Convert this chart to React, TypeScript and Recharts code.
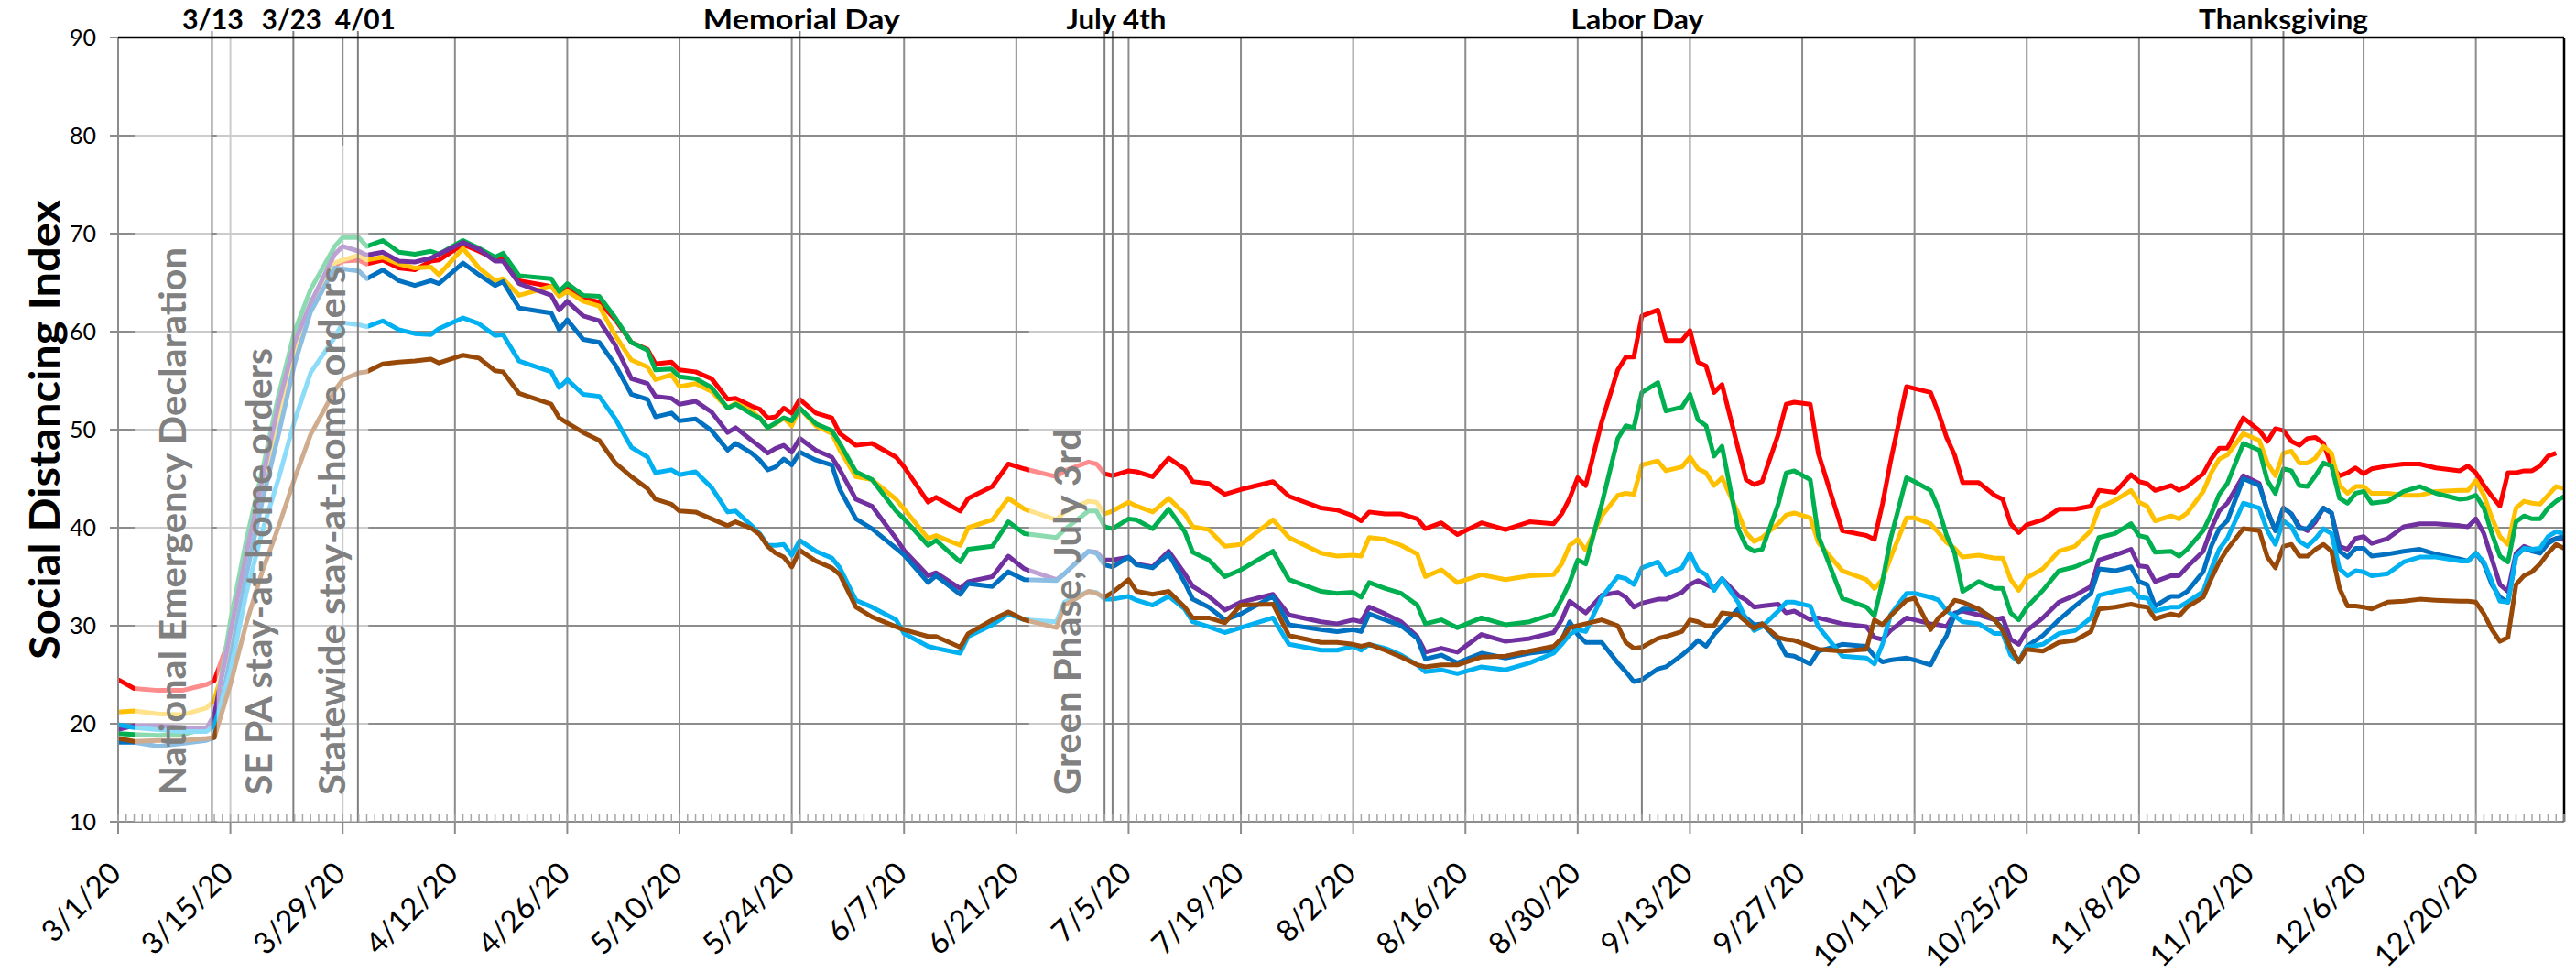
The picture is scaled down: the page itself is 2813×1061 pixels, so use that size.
import React from 'react';
import { LineChart, Line, XAxis, YAxis, CartesianGrid, ReferenceLine, ReferenceArea } from 'recharts';

// day index counted from 3/1/20
const days = [
  0, 2, 5, 8, 11, 12, 14, 16, 18, 20,
  22, 24, 27, 28, 30, 31, 33, 35, 37, 39,
  40, 43, 45, 47, 48, 50, 54, 55, 56, 58,
  60, 62, 64, 66, 67, 69, 70, 72, 74, 76,
  77, 79, 80, 81, 82, 83, 84, 85, 87, 89,
  90, 92, 94, 97, 98, 101, 102, 105, 106, 109,
  111, 113, 117, 118, 121, 122, 123, 124, 126, 127,
  129, 131, 133, 134, 136, 138, 140, 144, 146, 150,
  152, 154, 155, 156, 158, 160, 162, 163, 165, 167,
  170, 173, 176, 179, 180, 181, 182, 183, 185, 187,
  188, 189, 190, 192, 193, 195, 196, 197, 198, 199,
  200, 202, 203, 204, 205, 207, 208, 209, 211, 212,
  215, 218, 219, 220, 221, 223, 224, 226, 227, 228,
  229, 230, 232, 234, 235, 236, 237, 238, 240, 242,
  244, 246, 247, 249, 251, 252, 253, 254, 256, 257,
  258, 260, 261, 262, 263, 265, 267, 268, 269, 270,
  271, 272, 273, 274, 275, 276, 277, 278, 279, 280,
  281, 283, 285, 287, 289, 292, 293, 294, 295, 296,
  297, 298, 299, 300, 301, 302, 303, 304, 305,
];

const red = [
  24.5, 23.6, 23.4, 23.4, 24.0, 24.4, 29.0, 37.0, 44.5, 51.3,
  58.2, 62.3, 66.7, 67.2, 67.3, 66.9, 67.3, 66.5, 66.3, 67.2,
  67.3, 68.9, 68.2, 67.4, 67.4, 65.2, 64.6, 63.9, 64.4, 63.4,
  63.0, 61.2, 58.9, 58.2, 56.7, 56.9, 56.1, 55.9, 55.2, 53.1,
  53.2, 52.4, 52.1, 51.2, 51.3, 52.2, 51.7, 53.1, 51.7, 51.2,
  49.6, 48.4, 48.6, 47.2, 46.2, 42.6, 43.1, 41.7, 43.0, 44.2,
  46.5, 46.0, 45.2, 45.8, 46.7, 46.5, 45.5, 45.3, 45.8, 45.7,
  45.2, 47.1, 46.0, 44.7, 44.5, 43.4, 43.9, 44.7, 43.2, 42.0,
  41.8, 41.2, 40.7, 41.6, 41.4, 41.4, 40.9, 39.9, 40.5, 39.3,
  40.5, 39.8, 40.6, 40.4, 41.4, 43.0, 45.1, 44.3, 50.8, 56.1,
  57.4, 57.4, 61.6, 62.2, 59.1, 59.1, 60.1, 56.9, 56.5, 53.8,
  54.6, 48.1, 44.9, 44.4, 44.7, 49.5, 52.6, 52.8, 52.6, 47.6,
  39.7, 39.2, 38.8, 42.4, 46.7, 54.4, 54.2, 53.8, 51.7, 49.2,
  47.4, 44.6, 44.6, 43.3, 42.9, 40.4, 39.5, 40.3, 40.8, 41.9,
  41.9, 42.2, 43.8, 43.6, 45.4, 44.7, 44.5, 43.8, 44.3, 43.8,
  44.2, 45.5, 47.0, 48.1, 48.1, 51.2, 49.9, 48.8, 50.1, 49.9,
  48.8, 48.4, 49.1, 49.2, 48.6, 46.3, 45.3, 45.6, 46.1, 45.5,
  46.0, 46.3, 46.5, 46.5, 46.1, 45.8, 46.3, 45.6, 44.3, 43.2,
  42.2, 45.6, 45.6, 45.8, 45.8, 46.3, 47.3, 47.6, null,
];

const gold = [
  21.2, 21.3, 21.0, 20.9, 21.6, 22.4, 28.2, 36.5, 44.0, 50.9,
  57.8, 62.3, 67.0, 67.3, 67.8, 67.3, 67.6, 66.9, 66.5, 66.6,
  65.8, 68.5, 66.5, 65.2, 65.4, 63.7, 64.6, 63.6, 64.1, 63.1,
  62.6, 59.6, 57.1, 56.4, 55.1, 55.6, 54.4, 54.7, 53.9, 52.2,
  52.7, 51.9, 51.2, 50.2, 50.6, 51.2, 50.4, 52.2, 50.4, 49.6,
  47.9, 45.2, 44.9, 42.9, 41.9, 38.9, 39.2, 38.2, 40.0, 40.8,
  43.0, 41.9, 40.8, 41.6, 42.7, 42.6, 41.4, 41.7, 42.6, 42.2,
  41.6, 43.0, 41.4, 40.1, 39.8, 38.1, 38.3, 40.8, 39.0, 37.4,
  37.1, 37.2, 37.1, 39.0, 38.8, 38.2, 37.3, 35.0, 35.7, 34.4,
  35.2, 34.7, 35.1, 35.2, 36.3, 38.2, 38.8, 37.7, 41.2, 43.3,
  43.5, 43.4, 46.4, 46.8, 45.8, 46.2, 47.2, 46.0, 45.6, 44.3,
  45.1, 41.5, 39.5, 38.6, 39.0, 40.4, 41.3, 41.5, 41.0, 38.5,
  35.6, 34.7, 33.8, 34.7, 36.9, 41.0, 41.0, 40.4, 39.5, 38.5,
  37.9, 37.0, 37.2, 36.9, 36.9, 34.7, 33.6, 34.9, 35.8, 37.6,
  38.1, 39.7, 42.0, 42.8, 43.8, 42.6, 42.2, 40.7, 41.2, 40.9,
  41.5, 43.7, 45.6, 47.0, 47.4, 49.6, 48.9, 46.6, 45.3, 47.6,
  47.8, 46.6, 46.6, 47.1, 48.3, 47.6, 44.3, 43.5, 44.2, 44.2,
  43.5, 43.5, 43.3, 43.3, 43.7, 43.8, 43.8, 44.8, 43.3, 41.0,
  39.1, 38.3, 42.0, 42.7, 42.5, 42.4, 43.3, 44.2, 44.0,
];

const green = [
  19.0, 18.9, 18.8, 18.9, 19.5, 20.4, 30.5, 38.8, 45.9, 53.5,
  60.0, 64.3, 68.7, 69.6, 69.6, 68.7, 69.3, 68.1, 67.9, 68.2,
  67.9, 69.3, 68.5, 67.6, 68.0, 65.7, 65.4, 64.1, 64.9, 63.7,
  63.6, 61.4, 58.9, 58.1, 56.1, 56.2, 55.4, 55.2, 54.3, 52.2,
  52.6, 51.6, 51.2, 50.2, 50.7, 51.2, 50.9, 52.2, 50.6, 49.9,
  48.6, 45.7, 44.9, 41.7, 40.9, 38.2, 38.7, 36.5, 37.8, 38.1,
  40.6, 39.4, 39.0, 39.8, 41.7, 41.7, 40.1, 39.9, 40.9, 40.8,
  39.9, 41.9, 39.6, 37.5, 36.7, 35.0, 35.7, 37.6, 34.7, 33.5,
  33.3, 33.4, 32.9, 34.4, 33.8, 33.3, 32.1, 30.2, 30.6, 29.8,
  30.8, 30.1, 30.4, 31.2, 32.7, 34.4, 36.7, 36.3, 42.4, 49.1,
  50.4, 50.2, 53.8, 54.8, 51.9, 52.3, 53.6, 51.0, 50.4, 47.3,
  48.3, 39.9, 38.1, 37.6, 37.8, 42.4, 45.6, 45.8, 44.9, 39.2,
  32.8, 31.9, 31.0, 34.5, 38.8, 45.1, 44.7, 43.8, 41.9, 39.2,
  37.4, 33.5, 34.5, 33.8, 33.8, 31.3, 30.6, 31.9, 33.6, 35.6,
  36.0, 36.7, 39.0, 39.4, 40.4, 39.2, 39.0, 37.5, 37.6, 37.1,
  37.8, 39.7, 41.4, 43.4, 44.5, 48.6, 47.9, 44.8, 43.5, 46.0,
  45.8, 44.3, 44.2, 45.3, 46.6, 46.3, 43.0, 42.5, 43.5, 43.7,
  42.5, 42.7, 43.7, 44.2, 43.5, 42.9, 43.0, 43.3, 42.0, 39.4,
  37.1, 36.5, 40.6, 41.2, 40.9, 40.9, 42.0, 42.7, 43.2,
];

const purple = [
  19.4, 19.8, 19.8, 19.6, 19.5, 20.9, 29.3, 37.4, 45.0, 52.6,
  58.9, 62.9, 67.9, 68.7, 68.2, 67.8, 68.1, 67.2, 67.1, 67.5,
  67.9, 69.1, 68.4, 67.2, 67.2, 64.9, 63.7, 62.2, 63.1, 61.6,
  61.1, 58.6, 55.2, 54.7, 53.4, 53.2, 52.6, 52.9, 51.8, 49.7,
  50.2, 48.9, 48.3, 47.6, 48.1, 48.4, 47.7, 49.1, 47.9, 47.2,
  45.9, 42.9, 42.2, 38.9, 37.7, 35.1, 35.4, 33.8, 34.5, 35.0,
  37.1, 35.8, 34.7, 35.3, 37.6, 37.5, 36.7, 36.7, 37.0, 36.3,
  36.0, 37.6, 35.3, 34.0, 33.0, 31.6, 32.4, 33.2, 31.1, 30.4,
  30.2, 30.6, 30.4, 31.9, 31.2, 30.4, 28.9, 27.3, 27.7, 27.3,
  29.1, 28.4, 28.7, 29.3, 30.6, 32.5, 31.9, 31.3, 33.1, 33.4,
  32.9, 31.9, 32.3, 32.7, 32.7, 33.4, 34.2, 34.6, 34.2, 33.8,
  34.8, 33.1, 32.6, 31.9, 32.0, 32.2, 31.3, 31.5, 30.6, 30.8,
  30.2, 29.9, 28.8, 28.6, 29.5, 30.8, 30.6, 30.2, 30.1, 29.9,
  31.3, 31.5, 31.1, 30.6, 30.8, 28.6, 28.1, 29.5, 30.8, 32.4,
  33.1, 34.0, 36.7, 37.2, 37.8, 36.1, 36.0, 34.5, 35.1, 35.1,
  36.0, 37.6, 39.9, 41.7, 42.5, 45.3, 44.5, 41.7, 39.7, 42.0,
  41.4, 40.1, 39.7, 40.6, 42.0, 41.5, 38.1, 37.8, 38.9, 39.1,
  38.4, 38.9, 40.1, 40.4, 40.4, 40.2, 40.1, 40.9, 39.4, 36.8,
  34.2, 33.5, 37.4, 38.1, 37.8, 37.8, 38.6, 38.9, 38.8,
];

const blue = [
  18.1, 18.1, 17.7, 18.0, 18.3, 18.6, 26.7, 35.2, 42.8, 49.5,
  56.7, 62.0, 66.5, 66.4, 66.2, 65.4, 66.3, 65.2, 64.7, 65.2,
  64.9, 67.0, 65.8, 64.7, 65.1, 62.4, 61.9, 60.2, 61.2, 59.2,
  58.9, 56.6, 53.6, 53.1, 51.3, 51.7, 50.9, 51.1, 49.9, 47.9,
  48.6, 47.6, 46.9, 45.9, 46.2, 47.0, 46.4, 47.7, 46.9, 46.4,
  43.9, 40.9, 39.9, 37.9, 37.2, 34.4, 35.1, 33.2, 34.3, 34.0,
  35.5, 34.7, 34.6, 35.3, 37.6, 37.4, 36.2, 36.0, 37.0, 36.2,
  35.9, 37.3, 34.4, 32.7, 31.9, 30.6, 31.2, 33.0, 30.1, 29.6,
  29.4, 29.6, 29.4, 31.2, 30.6, 30.0, 28.7, 26.6, 27.0, 26.2,
  27.2, 26.7, 27.2, 27.5, 28.5, 30.4, 29.1, 28.3, 28.3, 26.2,
  25.3, 24.3, 24.5, 25.6, 25.8, 27.0, 27.7, 28.5, 27.9, 29.1,
  30.0, 31.7, 30.8, 30.1, 30.2, 28.5, 27.0, 26.9, 26.1, 27.4,
  28.1, 27.9, 26.9, 26.3, 26.5, 26.7, 26.5, 26.0, 27.6, 29.0,
  31.1, 31.7, 31.7, 30.6, 29.7, 27.7, 26.3, 27.9, 29.0, 30.6,
  32.0, 33.3, 35.8, 35.6, 36.0, 34.5, 34.2, 32.0, 33.0, 33.0,
  33.5, 35.5, 38.1, 39.9, 40.7, 45.0, 44.3, 41.7, 39.7, 42.0,
  41.4, 39.9, 39.9, 40.9, 42.0, 41.5, 37.6, 37.0, 37.9, 37.9,
  37.1, 37.3, 37.6, 37.8, 37.3, 36.8, 36.6, 37.4, 36.3, 34.2,
  32.9, 32.4, 37.1, 37.9, 37.6, 37.4, 38.4, 38.9, 39.1,
];

const sky = [
  19.9, 19.6, 19.4, 19.2, 19.2, 19.8, 25.3, 33.4, 39.7, 45.0,
  50.9, 55.8, 59.4, 60.9, 60.7, 60.5, 61.1, 60.2, 59.8, 59.7,
  60.3, 61.4, 60.8, 59.6, 59.7, 57.0, 55.9, 54.3, 55.1, 53.6,
  53.4, 51.1, 48.2, 47.2, 45.6, 45.9, 45.4, 45.7, 44.1, 41.6,
  41.7, 40.2, 39.4, 38.2, 38.2, 38.3, 37.2, 38.7, 37.6, 36.9,
  35.9, 32.6, 31.9, 30.6, 29.2, 27.9, 27.7, 27.2, 28.9, 30.1,
  31.2, 30.6, 30.4, 32.4, 33.5, 33.4, 32.7, 32.7, 33.0, 32.6,
  32.1, 33.0, 31.7, 30.4, 29.9, 29.3, 29.8, 30.8, 28.1, 27.5,
  27.5, 27.9, 27.5, 28.1, 27.7, 27.0, 26.0, 25.3, 25.5, 25.1,
  25.8, 25.5, 26.2, 27.2, 28.1, 29.1, 29.6, 29.4, 32.9, 35.0,
  34.8, 34.2, 35.9, 36.5, 35.2, 35.9, 37.4, 35.7, 35.2, 33.6,
  34.8, 32.4, 30.6, 29.5, 29.9, 31.5, 32.4, 32.4, 32.0, 29.9,
  26.9, 26.7, 26.1, 28.1, 31.1, 33.3, 33.3, 32.9, 32.6, 31.5,
  31.0, 30.4, 30.2, 29.2, 29.2, 27.0, 26.3, 27.8, 28.1, 29.2,
  29.5, 30.8, 33.1, 33.5, 33.8, 32.9, 32.8, 31.5, 31.9, 31.9,
  32.4, 33.5, 35.8, 37.8, 38.9, 42.5, 42.0, 39.7, 38.3, 40.7,
  40.1, 38.6, 38.1, 38.9, 39.9, 39.4, 35.8, 35.1, 35.6, 35.5,
  35.1, 35.3, 36.5, 37.0, 37.0, 36.6, 36.6, 37.4, 36.5, 34.5,
  32.5, 32.4, 37.1, 37.9, 37.8, 37.9, 39.1, 39.6, 39.4,
];

const brown = [
  18.5, 18.2, 18.3, 18.3, 18.5, 18.6, 24.0, 30.3, 35.6, 40.1,
  45.0, 49.5, 54.0, 55.1, 55.8, 55.9, 56.7, 56.9, 57.0, 57.2,
  56.8, 57.6, 57.3, 56.0, 55.9, 53.7, 52.6, 51.2, 50.7, 49.7,
  48.9, 46.6, 45.2, 44.0, 42.9, 42.4, 41.7, 41.6, 40.9, 40.2,
  40.6, 39.9, 39.3, 38.1, 37.4, 37.0, 36.0, 37.7, 36.6, 35.9,
  35.2, 31.9, 30.9, 29.9, 29.6, 28.9, 28.9, 27.8, 29.2, 30.6,
  31.4, 30.6, 29.8, 32.1, 33.5, 33.3, 32.9, 33.4, 34.7, 33.5,
  33.2, 33.5, 31.9, 30.8, 30.8, 30.3, 32.1, 32.2, 29.0, 28.3,
  28.3, 28.1, 27.9, 28.1, 27.5, 26.8, 26.0, 25.8, 26.0, 26.0,
  26.8, 26.9, 27.4, 27.9, 28.7, 29.8, 30.0, 30.2, 30.6, 30.0,
  28.3, 27.7, 27.8, 28.7, 28.9, 29.4, 30.6, 30.4, 30.0, 30.0,
  31.3, 31.1, 30.4, 29.7, 30.2, 28.8, 28.6, 28.5, 27.9, 27.6,
  27.4, 27.6, 30.6, 30.1, 31.0, 32.6, 32.8, 29.6, 30.8, 31.5,
  32.6, 32.4, 31.7, 30.6, 29.5, 27.7, 26.3, 27.6, 27.4, 28.3,
  28.5, 29.4, 31.7, 31.9, 32.2, 32.0, 31.9, 30.7, 31.2, 31.0,
  31.9, 32.9, 34.8, 36.5, 37.8, 39.9, 39.7, 37.0, 35.9, 38.1,
  38.3, 37.1, 37.1, 37.8, 38.3, 37.6, 33.8, 32.0, 32.0, 31.9,
  31.7, 32.4, 32.5, 32.7, 32.6, 32.5, 32.5, 32.4, 31.2, 29.6,
  28.4, 28.8, 34.2, 35.1, 35.5, 36.3, 37.4, 38.3, 37.9,
];

const tickDays = [0, 14, 28, 42, 56, 70, 84, 98, 112, 126, 140, 154, 168, 182, 196, 210, 224, 238, 252, 266, 280, 294];
const tickLabels = [
  '3/1/20', '3/15/20', '3/29/20', '4/12/20', '4/26/20', '5/10/20', '5/24/20', '6/7/20',
  '6/21/20', '7/5/20', '7/19/20', '8/2/20', '8/16/20', '8/30/20', '9/13/20', '9/27/20',
  '10/11/20', '10/25/20', '11/8/20', '11/22/20', '12/6/20', '12/20/20',
];
const minorDays = Array.from({ length: 306 }, (_, i) => i);
const yTicks = [10, 20, 30, 40, 50, 60, 70, 80, 90];

const eventNames = ['3/13', '3/23', '4/01', 'Memorial Day', '', 'July 4th', 'Labor Day', 'Thanksgiving'];
const eventDays = [11.7, 21.85, 29.9, 85, 123, 124, 190, 270];

const noteTexts = ['National Emergency Declaration', 'SE PA stay-at-home orders', 'Statewide stay-at-home orders', 'Green Phase, July 3rd'];
const noteFrom = [2.06, 12.3, 21.85, 113.6];
const noteTo = [11.7, 21.85, 31.2, 123.1];
const noteTop = [84, 90, 79, 62];

// label geometry (px): text offset from box left, total text length
const noteStyle = [
  { dx: 56, len: 598 },
  { dx: 60, len: 488 },
  { dx: 57, len: 577 },
  { dx: 56, len: 400 },
];
const eventStyle = [
  { dx: 1, len: 67 },
  { dx: -2, len: 65 },
  { dx: 8, len: 66 },
  { dx: 2, len: 215 },
  { dx: 0, len: 0 },
  { dx: 4, len: 109 },
  { dx: -5, len: 145 },
  { dx: 0, len: 185 },
];

const series = [
  { key: 'red', color: '#FF0000', values: red },
  { key: 'gold', color: '#FFC000', values: gold },
  { key: 'green', color: '#00B050', values: green },
  { key: 'purple', color: '#7030A0', values: purple },
  { key: 'blue', color: '#0070C0', values: blue },
  { key: 'sky', color: '#00B0F0', values: sky },
  { key: 'brown', color: '#984807', values: brown },
];

const data = days.map((day, i) => {
  const row: Record<string, number | null> = { day };
  series.forEach((s) => {
    row[s.key] = s.values[i];
  });
  return row;
});

const FONT = 'Lato, "Open Sans", sans-serif';
const GRID = '#8c8c8c';

const DateTick = (props: any) => {
  const { x, y, payload } = props;
  const i = tickDays.indexOf(payload.value);
  const ax = x - 3;
  const ay = y + 37;
  return (
    <text
      x={ax}
      y={ay}
      dy="0.35em"
      textAnchor="end"
      transform={`rotate(-45 ${ax} ${ay})`}
      fontSize={33}
      fontFamily={FONT}
      fill="#000"
    >
      {tickLabels[i]}
    </text>
  );
};

// minor daily ticks pointing up into the plot
const MinorTick = (props: any) => {
  const { x, y } = props;
  return <line x1={x} y1={y - 1} x2={x} y2={y - 10} stroke="#a6a6a6" strokeWidth={1.5} />;
};

const YTitle = (props: any) => {
  const { viewBox } = props;
  const x = viewBox.x + 65;
  const y = viewBox.y + viewBox.height / 2;
  return (
    <text
      x={x}
      y={y}
      transform={`rotate(-90 ${x} ${y})`}
      textAnchor="middle"
      fontSize={46}
      fontWeight="bold"
      fontFamily={FONT}
      fill="#000"
      textLength={502}
      lengthAdjust="spacingAndGlyphs"
    >
      Social Distancing Index
    </text>
  );
};

const noteLabel = (i: number) => (props: any) => {
  const { viewBox } = props;
  const x = viewBox.x + noteStyle[i].dx;
  const y = viewBox.y + viewBox.height - 29;
  return (
    <text
      x={x}
      y={y}
      transform={`rotate(-90 ${x} ${y})`}
      textAnchor="start"
      fontSize={40}
      fontWeight="bold"
      fontFamily={FONT}
      fill="#808080"
      textLength={noteStyle[i].len}
      lengthAdjust="spacingAndGlyphs"
    >
      {noteTexts[i]}
    </text>
  );
};

const eventLabel = (i: number) => (props: any) => {
  const { viewBox } = props;
  if (!eventNames[i]) return null;
  return (
    <text
      x={viewBox.x + eventStyle[i].dx}
      y={viewBox.y - 2}
      textAnchor="middle"
      fontSize={31}
      fontWeight="bold"
      fontFamily={FONT}
      fill="#000"
      textLength={eventStyle[i].len}
      lengthAdjust="spacingAndGlyphs"
    >
      {eventNames[i]}
    </text>
  );
};

export default function App() {
  return (
    <div style={{ position: 'absolute', left: 0, top: 0, width: 2813, height: 1061, background: '#fff' }}>
      <LineChart
        width={2813}
        height={1061}
        data={data}
        margin={{ top: 41, right: 13, bottom: 162, left: 0 }}
        style={{ fontFamily: FONT }}
      >
        <CartesianGrid stroke={GRID} strokeWidth={2} />
        <XAxis
          dataKey="day"
          type="number"
          domain={[0, 305]}
          ticks={tickDays}
          interval={0}
          height={1}
          tickSize={13}
          tickMargin={0}
          tick={<DateTick />}
          tickLine={{ stroke: GRID, strokeWidth: 2 }}
          axisLine={{ stroke: GRID, strokeWidth: 2 }}
        />
        <XAxis
          xAxisId="minor"
          dataKey="day"
          type="number"
          domain={[0, 305]}
          ticks={minorDays}
          interval={0}
          height={1}
          tickSize={0}
          tickMargin={0}
          tick={<MinorTick />}
          axisLine={false}
          tickLine={false}
        />
        <YAxis
          type="number"
          domain={[10, 90]}
          ticks={yTicks}
          interval={0}
          width={129}
          tickSize={9}
          tickMargin={15}
          tick={{ fontSize: 25, fill: '#000', fontFamily: FONT }}
          tickLine={{ stroke: GRID, strokeWidth: 2 }}
          axisLine={{ stroke: GRID, strokeWidth: 2 }}
          label={YTitle}
        />
        {series.map((s) => (
          <Line
            key={s.key}
            dataKey={s.key}
            type="linear"
            stroke={s.color}
            strokeWidth={5}
            strokeLinejoin="round"
            dot={false}
            activeDot={false}
            isAnimationActive={false}
          />
        ))}
        {noteTexts.map((t, i) => (
          <ReferenceArea
            key={t}
            x1={noteFrom[i]}
            x2={noteTo[i]}
            y1={10}
            y2={noteTop[i]}
            fill="#ffffff"
            fillOpacity={0.55}
            stroke="none"
            ifOverflow="visible"
            zIndex={650}
            label={noteLabel(i)}
          />
        ))}
        {eventDays.map((d, i) => (
          <ReferenceLine
            key={`ev-${i}`}
            segment={[
              { x: d, y: 10 },
              { x: d, y: 90.65 },
            ]}
            stroke="#7f7f7f"
            strokeWidth={2}
            ifOverflow="visible"
            zIndex={700}
            label={eventLabel(i)}
          />
        ))}
        <ReferenceLine y={90} stroke="#000" strokeWidth={2.5} ifOverflow="visible" zIndex={700} />
        <ReferenceLine x={305} stroke="#000" strokeWidth={2.5} ifOverflow="visible" zIndex={700} />
      </LineChart>
    </div>
  );
}
